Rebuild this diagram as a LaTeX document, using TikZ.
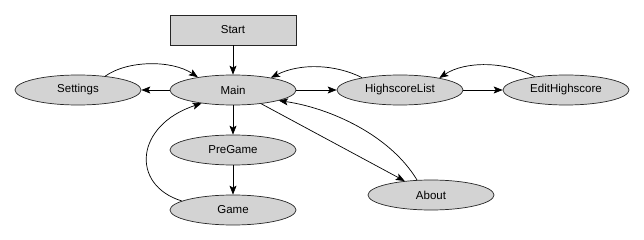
\documentclass[tikz,border=0pt]{standalone}
\usepackage{fontspec}
\setmainfont{Liberation Sans}
\usetikzlibrary{shapes.geometric,arrows.meta}
\definecolor{nodefill}{HTML}{D3D3D3}
\begin{document}
\begin{tikzpicture}[x=1pt,y=-1pt,
  state/.style={ellipse,draw=black!85,fill=nodefill,line width=0.7pt,
    minimum width=126pt,minimum height=30pt,inner sep=0pt,
    font=\fontsize{11.5}{13}\selectfont},
  startbox/.style={rectangle,draw=black!85,fill=nodefill,line width=0.7pt,
    minimum width=126pt,minimum height=30pt,inner sep=0pt,
    font=\fontsize{11.5}{13}\selectfont},
  edge/.style={draw=black,line width=0.7pt,-{Stealth[length=9pt,width=7pt,inset=2pt]}}]
\useasboundingbox (0,0) rectangle (644,240);

% states
\node[startbox] (start) at (233,30) {Start};
\node[state] (main) at (233,90) {Main};
\node[state] (settings) at (78,90) {Settings};
\node[state] (hslist) at (400,90) {HighscoreList};
\node[state] (edithigh) at (566,90) {EditHighscore};
\node[state] (pregame) at (233,150) {PreGame};
\node[state] (game) at (233,210) {Game};
\node[state] (about) at (431,195) {About};

% straight transitions
\draw[edge] (start.south) -- (main.north);
\draw[edge] (main.west) -- (settings.east);
\draw[edge] (main.east) -- (hslist.west);
\draw[edge] (hslist.east) -- (edithigh.west);
\draw[edge] (main.south) -- (pregame.north);
\draw[edge] (pregame.south) -- (game.north);
\draw[edge] (main.334) -- (about.152);

% return transitions
\draw[edge] (settings.27) .. controls (128,60) and (172,60) .. (main.160);
\draw[edge] (hslist.162) .. controls (335,64) and (300,63) .. (main.18);
\draw[edge] (edithigh.157) .. controls (505,61) and (465,61) .. (hslist.17);
\draw[edge] (game.170) .. controls (130,185) and (135,125) .. (main.203);
\draw[edge] (about.133) .. controls (390,135) and (330,108) .. (main.347);
\end{tikzpicture}
\end{document}
